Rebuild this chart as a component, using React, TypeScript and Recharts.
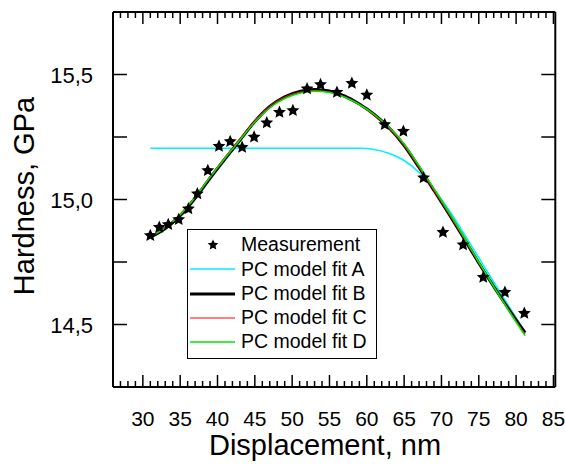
import { ComposedChart, Legend, Line, Scatter, XAxis, YAxis } from "recharts";

// measured hardness (stars)
const measX = [
  31.0, 32.2, 33.4, 34.8, 36.1, 37.3, 38.7, 40.2, 41.7, 43.3, 44.9, 46.6, 48.3, 50.1,
  52.0, 53.8, 56.0, 58.0, 60.0, 62.4, 64.9, 67.6, 70.2, 72.9, 75.6, 78.5, 81.1,
];
const measY = [
  14.856, 14.889, 14.9, 14.92, 14.963, 15.023, 15.116, 15.213, 15.232, 15.209, 15.25,
  15.307, 15.349, 15.356, 15.443, 15.46, 15.429, 15.465, 15.418, 15.3, 15.273, 15.087,
  14.869, 14.819, 14.689, 14.629, 14.545,
];

// fit curves, read at these displacements
const fitX = [
  31, 33, 35, 37, 39, 41, 43, 45, 47, 49, 51, 53, 55, 57, 59, 61, 63, 65, 67, 69, 71, 73,
  75, 77, 79, 81.2,
];
const fitA = [
  15.205, 15.205, 15.205, 15.205, 15.205, 15.205, 15.205, 15.205, 15.205, 15.205, 15.205,
  15.205, 15.205, 15.205, 15.205, 15.2, 15.184, 15.156, 15.108, 15.04, 14.958, 14.864,
  14.767, 14.67, 14.574, 14.47,
];
const fitB = [
  14.849, 14.884, 14.935, 15.005, 15.085, 15.162, 15.237, 15.312, 15.372, 15.411, 15.432,
  15.44, 15.434, 15.414, 15.382, 15.34, 15.286, 15.216, 15.128, 15.036, 14.942, 14.845,
  14.746, 14.652, 14.562, 14.467,
];
const fitC = [
  14.852, 14.892, 14.943, 15.013, 15.093, 15.17, 15.244, 15.317, 15.374, 15.41, 15.429,
  15.436, 15.43, 15.41, 15.378, 15.336, 15.283, 15.214, 15.127, 15.035, 14.941, 14.844,
  14.745, 14.65, 14.558, 14.462,
];
const fitD = [
  14.85, 14.887, 14.939, 15.009, 15.089, 15.165, 15.238, 15.31, 15.367, 15.404, 15.425,
  15.433, 15.428, 15.41, 15.38, 15.34, 15.289, 15.222, 15.135, 15.043, 14.949, 14.851,
  14.75, 14.652, 14.556, 14.455,
];

const xMajorTicks = [30, 35, 40, 45, 50, 55, 60, 65, 70, 75, 80, 85];
const yLabelTicks = [14.5, 15.0, 15.5];
const yTicks = [14.5, 14.75, 15.0, 15.25, 15.5];

const xTicks = Array.from({ length: 59 }, (_, i) => 27 + i);
const xDomain = [26, 85.25];
const yDomain = [14.25, 15.75];

const series = [
  { name: "PC model fit A", values: fitA, color: "#00f0ff", width: 1.5 },
  { name: "PC model fit B", values: fitB, color: "#000000", width: 3 },
  { name: "PC model fit C", values: fitC, color: "#ff0000", width: 1 },
  { name: "PC model fit D", values: fitD, color: "#00e600", width: 1.5 },
];

const measData = measX.map((x, i) => ({ x, y: measY[i] }));
const toRows = (ys: number[]) => fitX.map((x, i) => ({ x, y: ys[i] }));

const starPath = (cx: number, cy: number, R: number) => {
  const r = R * 0.47;
  let d = "";
  for (let i = 0; i < 10; i++) {
    const rad = i % 2 === 0 ? R : r;
    const a = -Math.PI / 2 + (i * Math.PI) / 5;
    d += (i === 0 ? "M" : "L") + (cx + rad * Math.cos(a)).toFixed(2) + "," + (cy + rad * Math.sin(a)).toFixed(2);
  }
  return d + "Z";
};

const Star = (props: any) => <path d={starPath(props.cx, props.cy, 6.8)} fill="#000" />;

const fmtY = (v: number) => v.toFixed(1).replace(".", ",");

const BottomTick = (props: any) => {
  const { x, y, payload } = props;
  const major = xMajorTicks.includes(payload.value);
  return (
    <g>
      <line x1={x} x2={x} y1={y} y2={y - (major ? 12 : 6)} stroke="#000" strokeWidth={1.5} />
      {major && (
        <text x={x} y={y + 39} textAnchor="middle" fontSize={21} fill="#000">
          {payload.value}
        </text>
      )}
    </g>
  );
};

const TopTick = (props: any) => {
  const { x, y, payload } = props;
  const major = xMajorTicks.includes(payload.value);
  return <line x1={x} x2={x} y1={y} y2={y + (major ? 12 : 6)} stroke="#000" strokeWidth={1.5} />;
};

const LeftTick = (props: any) => {
  const { x, y, payload } = props;
  const labeled = yLabelTicks.includes(payload.value);
  return (
    <g>
      <line x1={x} x2={x + 14} y1={y} y2={y} stroke="#000" strokeWidth={1.5} />
      {labeled && (
        <text x={x - 20} y={y + 8} textAnchor="end" fontSize={22} fill="#000">
          {fmtY(payload.value)}
        </text>
      )}
    </g>
  );
};

const RightTick = (props: any) => {
  const { x, y } = props;
  return <line x1={x} x2={x - 14} y1={y} y2={y} stroke="#000" strokeWidth={1.5} />;
};

const LegendBox = () => (
  <div
    style={{
      width: 188,
      height: 125,
      border: "1px solid #000",
      background: "#fff",
      boxSizing: "content-box",
      paddingTop: 3,
    }}
  >
    <div style={{ display: "flex", alignItems: "center", height: 24.25 }}>
      <svg width={50} height={24}>
        <path d={starPath(25, 12, 5.6)} fill="#000" />
      </svg>
      <span style={{ fontSize: 19.5, marginLeft: 3, lineHeight: 1 }}>Measurement</span>
    </div>
    {series.map((s) => (
      <div key={s.name} style={{ display: "flex", alignItems: "center", height: 24.25 }}>
        <svg width={50} height={24}>
          <line x1={2} x2={47} y1={12} y2={12} stroke={s.color} strokeWidth={s.width} />
        </svg>
        <span style={{ fontSize: 19.5, marginLeft: 3, lineHeight: 1 }}>{s.name}</span>
      </div>
    ))}
  </div>
);

export default function App() {
  return (
    <div
      style={{
        position: "absolute",
        left: 0,
        top: 0,
        width: 565,
        height: 470,
        background: "#fff",
        fontFamily: "'Liberation Sans', Arial, sans-serif",
        color: "#000",
      }}
    >
      <ComposedChart width={565} height={470} margin={{ top: 0, right: 0, bottom: 0, left: 0 }}>
        <XAxis
          xAxisId="bottom"
          dataKey="x"
          type="number"
          domain={xDomain}
          allowDataOverflow
          ticks={xTicks}
          interval={0}
          height={83}
          tickSize={0}
          tickMargin={0}
          tickLine={false}
          axisLine={{ stroke: "#000", strokeWidth: 2 }}
          tick={BottomTick}
          label={() => (
            <text x={325} y={455} textAnchor="middle" fontSize={29} fill="#000">
              Displacement, nm
            </text>
          )}
        />
        <XAxis
          xAxisId="top"
          orientation="top"
          dataKey="x"
          type="number"
          domain={xDomain}
          allowDataOverflow
          ticks={xTicks}
          interval={0}
          height={12}
          tickSize={0}
          tickMargin={0}
          tickLine={false}
          axisLine={{ stroke: "#000", strokeWidth: 2 }}
          tick={TopTick}
        />
        <YAxis
          yAxisId="left"
          type="number"
          domain={yDomain}
          allowDataOverflow
          ticks={yTicks}
          interval={0}
          width={113}
          tickSize={0}
          tickMargin={0}
          tickLine={false}
          axisLine={{ stroke: "#000", strokeWidth: 2 }}
          tick={LeftTick}
          label={() => (
            <text
              x={34}
              y={196}
              textAnchor="middle"
              fontSize={29}
              fill="#000"
              transform="rotate(-90, 34, 196)"
            >
              Hardness, GPa
            </text>
          )}
        />
        <YAxis
          yAxisId="right"
          orientation="right"
          type="number"
          domain={yDomain}
          allowDataOverflow
          ticks={yTicks}
          interval={0}
          width={9.7}
          tickSize={0}
          tickMargin={0}
          tickLine={false}
          axisLine={{ stroke: "#000", strokeWidth: 2 }}
          tick={RightTick}
        />
        {series.map((s) => (
          <Line
            key={s.name}
            xAxisId="bottom"
            yAxisId="left"
            data={toRows(s.values)}
            dataKey="y"
            type="monotone"
            stroke={s.color}
            strokeWidth={s.width}
            dot={false}
            activeDot={false}
            isAnimationActive={false}
          />
        ))}
        <Scatter
          xAxisId="bottom"
          yAxisId="left"
          data={measData}
          dataKey="y"
          shape={Star}
          isAnimationActive={false}
        />
        <Legend
          layout="vertical"
          align="center"
          verticalAlign="middle"
          wrapperStyle={{ left: 187, top: 229, width: 190 }}
          content={() => <LegendBox />}
        />
      </ComposedChart>
    </div>
  );
}
